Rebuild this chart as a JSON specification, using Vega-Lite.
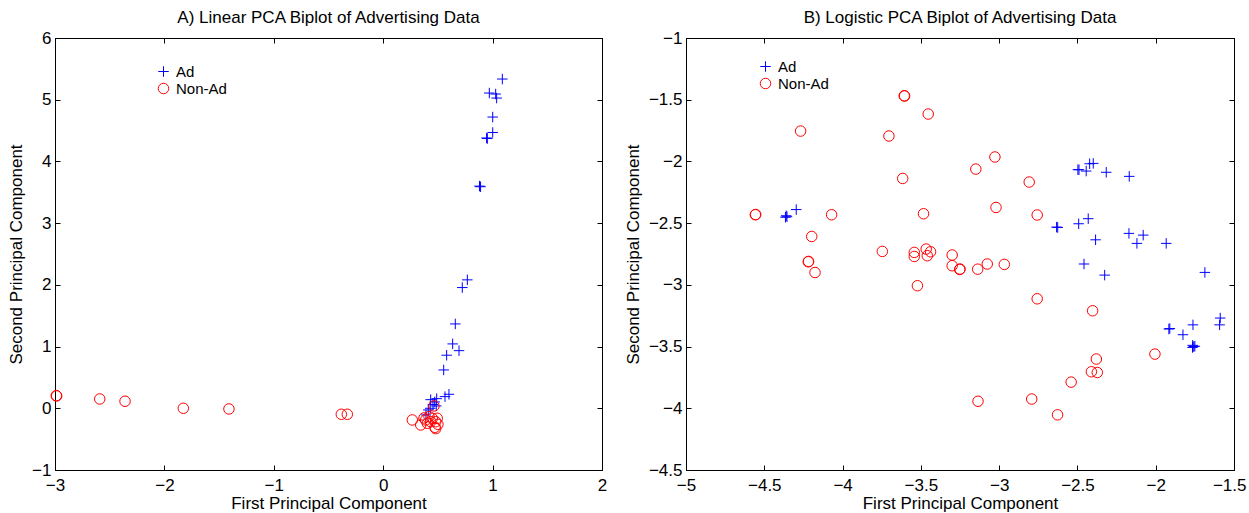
{
  "$schema": "https://vega.github.io/schema/vega-lite/v6.json",
  "background": "white",
  "padding": {"left": 7, "top": 8, "right": 0, "bottom": 0},
  "spacing": 15,
  "config": {
    "font": "Liberation Sans",
    "view": {"stroke": "black", "strokeWidth": 1},
    "axis": {"grid": false, "domainColor": "black", "domainWidth": 1, "tickColor": "black", "tickWidth": 1, "tickSize": -5, "labelColor": "black", "labelFontSize": 17, "labelFont": "Liberation Sans", "titleFont": "Liberation Sans", "titleFontSize": 17, "titleFontWeight": "normal", "titleColor": "black", "format": "~g", "labelOverlap": false, "labelFlush": false},
    "axisX": {"labelPadding": 12, "titlePadding": 2},
    "axisY": {"labelPadding": 9, "titlePadding": 6},
    "title": {"fontSize": 17, "fontWeight": "normal", "font": "Liberation Sans", "color": "black", "offset": 2},
    "legend": {"orient": "none", "title": null, "labelFontSize": 15, "labelFont": "Liberation Sans", "labelColor": "black", "symbolStrokeWidth": 1, "symbolSize": 110, "rowPadding": 1, "labelOffset": 5, "labelExpr": "replace(datum.label, '-', '\u2212')"}
  },
  "resolve": {"scale": {"color": "independent", "shape": "independent"}, "legend": {"color": "independent", "shape": "independent"}},
  "hconcat": [
    {
      "width": 547,
      "height": 432,
      "title": {"text": "A) Linear PCA Biplot of Advertising Data"},
      "data": {"values": [
        {"x": 1.089, "y": 5.335, "c": "Ad"},
        {"x": 0.970, "y": 5.108, "c": "Ad"},
        {"x": 1.028, "y": 5.092, "c": "Ad"},
        {"x": 1.037, "y": 5.027, "c": "Ad"},
        {"x": 1.001, "y": 4.719, "c": "Ad"},
        {"x": 1.001, "y": 4.469, "c": "Ad"},
        {"x": 0.952, "y": 4.372, "c": "Ad"},
        {"x": 0.945, "y": 4.380, "c": "Ad"},
        {"x": 0.880, "y": 3.600, "c": "Ad"},
        {"x": 0.890, "y": 3.590, "c": "Ad"},
        {"x": 0.769, "y": 2.081, "c": "Ad"},
        {"x": 0.723, "y": 1.956, "c": "Ad"},
        {"x": 0.659, "y": 1.367, "c": "Ad"},
        {"x": 0.635, "y": 1.043, "c": "Ad"},
        {"x": 0.693, "y": 0.934, "c": "Ad"},
        {"x": 0.580, "y": 0.860, "c": "Ad"},
        {"x": 0.553, "y": 0.621, "c": "Ad"},
        {"x": 0.601, "y": 0.227, "c": "Ad"},
        {"x": 0.565, "y": 0.189, "c": "Ad"},
        {"x": 0.489, "y": 0.156, "c": "Ad"},
        {"x": 0.434, "y": 0.140, "c": "Ad"},
        {"x": 0.471, "y": 0.103, "c": "Ad"},
        {"x": 0.485, "y": 0.038, "c": "Ad"},
        {"x": 0.412, "y": -0.027, "c": "Ad"},
        {"x": 0.391, "y": -0.108, "c": "Ad"},
        {"x": 0.455, "y": 0.060, "c": "Ad"},
        {"x": 0.430, "y": 0.000, "c": "Ad"},
        {"x": -2.988, "y": 0.205, "c": "Non-Ad"},
        {"x": -2.985, "y": 0.200, "c": "Non-Ad"},
        {"x": -2.591, "y": 0.151, "c": "Non-Ad"},
        {"x": -2.360, "y": 0.114, "c": "Non-Ad"},
        {"x": -1.827, "y": 0.000, "c": "Non-Ad"},
        {"x": -1.410, "y": -0.011, "c": "Non-Ad"},
        {"x": -0.383, "y": -0.097, "c": "Non-Ad"},
        {"x": -0.328, "y": -0.097, "c": "Non-Ad"},
        {"x": 0.266, "y": -0.189, "c": "Non-Ad"},
        {"x": 0.343, "y": -0.270, "c": "Non-Ad"},
        {"x": 0.388, "y": -0.189, "c": "Non-Ad"},
        {"x": 0.434, "y": -0.217, "c": "Non-Ad"},
        {"x": 0.473, "y": -0.308, "c": "Non-Ad"},
        {"x": 0.480, "y": -0.217, "c": "Non-Ad"},
        {"x": 0.449, "y": -0.162, "c": "Non-Ad"},
        {"x": 0.403, "y": -0.243, "c": "Non-Ad"},
        {"x": 0.464, "y": 0.038, "c": "Non-Ad"},
        {"x": 0.494, "y": -0.162, "c": "Non-Ad"},
        {"x": 0.419, "y": -0.136, "c": "Non-Ad"},
        {"x": 0.480, "y": -0.330, "c": "Non-Ad"},
        {"x": 0.373, "y": -0.157, "c": "Non-Ad"},
        {"x": 0.500, "y": -0.260, "c": "Non-Ad"}
      ]},
      "layer": [
        {
          "mark": {"type": "point", "filled": false, "size": 110, "strokeWidth": 1, "opacity": 1},
          "encoding": {
            "x": {"field": "x", "type": "quantitative", "title": "First Principal Component", "scale": {"domain": [-3, 2], "nice": false, "zero": false}, "axis": {"values": [-3, -2, -1, 0, 1, 2]}},
            "y": {"field": "y", "type": "quantitative", "title": "Second Principal Component", "scale": {"domain": [-1, 6], "nice": false, "zero": false}, "axis": {"values": [-1, 0, 1, 2, 3, 4, 5, 6]}},
            "color": {"field": "c", "type": "nominal", "scale": {"domain": ["Ad", "Non-Ad"], "range": ["#0000ff", "#ff0000"]}, "legend": {"legendX": 101, "legendY": 26}},
            "shape": {"field": "c", "type": "nominal", "scale": {"domain": ["Ad", "Non-Ad"], "range": ["M-1,0L1,0M0,-1L0,1", "circle"]}, "legend": {"legendX": 101, "legendY": 26}}
          }
        },
        {
          "mark": {"type": "point", "opacity": 0},
          "encoding": {
            "x": {"field": "x", "type": "quantitative", "axis": {"orient": "top", "labels": false, "title": null, "values": [-3, -2, -1, 0, 1, 2]}},
            "y": {"field": "y", "type": "quantitative", "axis": {"orient": "right", "labels": false, "title": null, "values": [-1, 0, 1, 2, 3, 4, 5, 6]}}
          }
        }
      ],
      "resolve": {"axis": {"x": "independent", "y": "independent"}}
    },
    {
      "width": 548,
      "height": 432,
      "title": {"text": "B) Logistic PCA Biplot of Advertising Data"},
      "data": {"values": [
        {"x": -4.360, "y": -2.440, "c": "Ad"},
        {"x": -4.355, "y": -2.448, "c": "Ad"},
        {"x": -4.365, "y": -2.452, "c": "Ad"},
        {"x": -4.296, "y": -2.390, "c": "Ad"},
        {"x": -2.497, "y": -2.067, "c": "Ad"},
        {"x": -2.490, "y": -2.067, "c": "Ad"},
        {"x": -2.444, "y": -2.078, "c": "Ad"},
        {"x": -2.422, "y": -2.019, "c": "Ad"},
        {"x": -2.399, "y": -2.016, "c": "Ad"},
        {"x": -2.316, "y": -2.088, "c": "Ad"},
        {"x": -2.169, "y": -2.121, "c": "Ad"},
        {"x": -2.633, "y": -2.532, "c": "Ad"},
        {"x": -2.626, "y": -2.535, "c": "Ad"},
        {"x": -2.492, "y": -2.505, "c": "Ad"},
        {"x": -2.431, "y": -2.464, "c": "Ad"},
        {"x": -2.384, "y": -2.635, "c": "Ad"},
        {"x": -2.171, "y": -2.583, "c": "Ad"},
        {"x": -2.080, "y": -2.597, "c": "Ad"},
        {"x": -2.120, "y": -2.664, "c": "Ad"},
        {"x": -1.933, "y": -2.664, "c": "Ad"},
        {"x": -2.458, "y": -2.831, "c": "Ad"},
        {"x": -2.326, "y": -2.921, "c": "Ad"},
        {"x": -1.686, "y": -2.899, "c": "Ad"},
        {"x": -1.588, "y": -3.269, "c": "Ad"},
        {"x": -1.592, "y": -3.324, "c": "Ad"},
        {"x": -1.762, "y": -3.324, "c": "Ad"},
        {"x": -1.916, "y": -3.358, "c": "Ad"},
        {"x": -1.910, "y": -3.354, "c": "Ad"},
        {"x": -1.826, "y": -3.404, "c": "Ad"},
        {"x": -1.764, "y": -3.490, "c": "Ad"},
        {"x": -1.750, "y": -3.497, "c": "Ad"},
        {"x": -1.765, "y": -3.507, "c": "Ad"},
        {"x": -1.757, "y": -3.500, "c": "Ad"},
        {"x": -3.606, "y": -1.468, "c": "Non-Ad"},
        {"x": -3.604, "y": -1.470, "c": "Non-Ad"},
        {"x": -3.453, "y": -1.616, "c": "Non-Ad"},
        {"x": -4.268, "y": -1.754, "c": "Non-Ad"},
        {"x": -3.704, "y": -1.794, "c": "Non-Ad"},
        {"x": -3.616, "y": -2.138, "c": "Non-Ad"},
        {"x": -4.557, "y": -2.432, "c": "Non-Ad"},
        {"x": -4.555, "y": -2.430, "c": "Non-Ad"},
        {"x": -4.070, "y": -2.432, "c": "Non-Ad"},
        {"x": -3.483, "y": -2.424, "c": "Non-Ad"},
        {"x": -4.197, "y": -2.608, "c": "Non-Ad"},
        {"x": -3.746, "y": -2.729, "c": "Non-Ad"},
        {"x": -3.542, "y": -2.737, "c": "Non-Ad"},
        {"x": -3.542, "y": -2.770, "c": "Non-Ad"},
        {"x": -3.466, "y": -2.710, "c": "Non-Ad"},
        {"x": -3.438, "y": -2.732, "c": "Non-Ad"},
        {"x": -3.459, "y": -2.764, "c": "Non-Ad"},
        {"x": -3.300, "y": -2.758, "c": "Non-Ad"},
        {"x": -3.300, "y": -2.845, "c": "Non-Ad"},
        {"x": -4.219, "y": -2.813, "c": "Non-Ad"},
        {"x": -4.217, "y": -2.810, "c": "Non-Ad"},
        {"x": -4.176, "y": -2.900, "c": "Non-Ad"},
        {"x": -3.522, "y": -3.007, "c": "Non-Ad"},
        {"x": -3.252, "y": -2.875, "c": "Non-Ad"},
        {"x": -3.250, "y": -2.872, "c": "Non-Ad"},
        {"x": -3.137, "y": -2.873, "c": "Non-Ad"},
        {"x": -3.076, "y": -2.831, "c": "Non-Ad"},
        {"x": -2.967, "y": -2.834, "c": "Non-Ad"},
        {"x": -3.149, "y": -2.062, "c": "Non-Ad"},
        {"x": -3.027, "y": -1.964, "c": "Non-Ad"},
        {"x": -2.808, "y": -2.167, "c": "Non-Ad"},
        {"x": -3.020, "y": -2.373, "c": "Non-Ad"},
        {"x": -2.757, "y": -2.434, "c": "Non-Ad"},
        {"x": -2.757, "y": -3.113, "c": "Non-Ad"},
        {"x": -2.403, "y": -3.210, "c": "Non-Ad"},
        {"x": -2.005, "y": -3.561, "c": "Non-Ad"},
        {"x": -2.379, "y": -3.601, "c": "Non-Ad"},
        {"x": -2.411, "y": -3.704, "c": "Non-Ad"},
        {"x": -2.373, "y": -3.710, "c": "Non-Ad"},
        {"x": -2.540, "y": -3.788, "c": "Non-Ad"},
        {"x": -2.792, "y": -3.925, "c": "Non-Ad"},
        {"x": -3.135, "y": -3.943, "c": "Non-Ad"},
        {"x": -2.627, "y": -4.053, "c": "Non-Ad"}
      ]},
      "layer": [
        {
          "mark": {"type": "point", "filled": false, "size": 110, "strokeWidth": 1, "opacity": 1},
          "encoding": {
            "x": {"field": "x", "type": "quantitative", "title": "First Principal Component", "scale": {"domain": [-5, -1.5], "nice": false, "zero": false}, "axis": {"values": [-5, -4.5, -4, -3.5, -3, -2.5, -2, -1.5], "labelAlign": {"condition": {"test": "datum.value == -1.5", "value": "right"}, "value": "center"}, "labelOffset": {"condition": {"test": "datum.value == -1.5", "value": 12}, "value": 0}}},
            "y": {"field": "y", "type": "quantitative", "title": "Second Principal Component", "scale": {"domain": [-4.5, -1], "nice": false, "zero": false}, "axis": {"values": [-4.5, -4, -3.5, -3, -2.5, -2, -1.5, -1]}},
            "color": {"field": "c", "type": "nominal", "scale": {"domain": ["Ad", "Non-Ad"], "range": ["#0000ff", "#ff0000"]}, "legend": {"legendX": 72, "legendY": 21}},
            "shape": {"field": "c", "type": "nominal", "scale": {"domain": ["Ad", "Non-Ad"], "range": ["M-1,0L1,0M0,-1L0,1", "circle"]}, "legend": {"legendX": 72, "legendY": 21}}
          }
        },
        {
          "mark": {"type": "point", "opacity": 0},
          "encoding": {
            "x": {"field": "x", "type": "quantitative", "axis": {"orient": "top", "labels": false, "title": null, "values": [-5, -4.5, -4, -3.5, -3, -2.5, -2, -1.5]}},
            "y": {"field": "y", "type": "quantitative", "axis": {"orient": "right", "labels": false, "title": null, "values": [-4.5, -4, -3.5, -3, -2.5, -2, -1.5, -1]}}
          }
        }
      ],
      "resolve": {"axis": {"x": "independent", "y": "independent"}}
    }
  ]
}
